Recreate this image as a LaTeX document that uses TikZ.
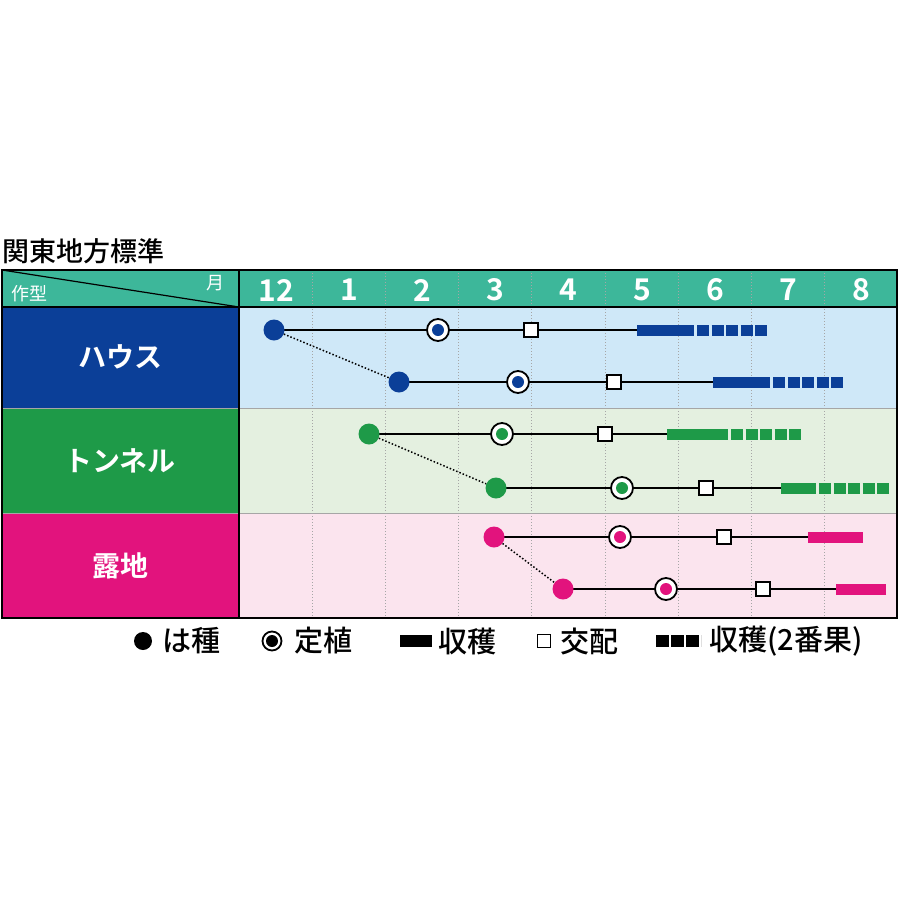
\documentclass[tikz,border=0pt]{standalone}
\usepackage{fontspec}
\setmainfont{Noto Sans CJK JP}[BoldFont={* Bold}]
\newfontfamily\medfont{Noto Sans CJK JP Medium}
\definecolor{hblue}{HTML}{0B3F98}
\definecolor{hbg}{HTML}{CFE8F8}
\definecolor{tgreen}{HTML}{1E9A48}
\definecolor{tbg}{HTML}{E4F0E0}
\definecolor{rmag}{HTML}{E2137D}
\definecolor{rbg}{HTML}{FBE4EE}
\definecolor{teal}{HTML}{3DB79A}
\tikzset{
 seed/.style={circle,fill=#1,minimum size=21pt,inner sep=0pt},
 trans/.style={circle,fill=white,draw=black,line width=1.8pt,minimum size=22pt,inner sep=0pt,path picture={\fill[#1] (path picture bounding box.center) circle (6pt);}},
 cross/.style={rectangle,fill=white,draw=black,line width=1.4pt,minimum size=14pt,inner sep=0pt},
 tl/.style={line width=1.3pt},
 harv/.style={line width=11pt,draw=#1},
 harv2/.style={line width=11pt,draw=#1,dash pattern=on 12pt off 2.5pt},
 dotl/.style={line width=1.5pt,dotted},
 lbl/.style={font=\fontsize{28}{28}\selectfont\bfseries,text=white},
 mon/.style={font=\fontsize{30}{30}\selectfont\bfseries,text=white},
 leg/.style={font=\fontsize{29}{29}\medfont,anchor=west,inner sep=0pt}
}
\begin{document}
\begin{tikzpicture}[x=1pt,y=-1pt]
\useasboundingbox[fill=white] (0,0) rectangle (900,900);
\node[font=\fontsize{27}{27}\medfont,anchor=west,inner sep=0pt] (title) at (2,251) {関東地方標準};
\fill[teal] (2,270) rectangle (897,307);
\fill[hblue] (2,307) rectangle (239,408);
\fill[tgreen] (2,408) rectangle (239,513);
\fill[rmag] (2,513) rectangle (239,618);
\fill[hbg] (239,307) rectangle (897,408);
\fill[tbg] (239,408) rectangle (897,513);
\fill[rbg] (239,513) rectangle (897,618);
\foreach \i in {1,...,8} \draw[gray!70,dotted,line width=1pt] (239+73.2*\i,270) -- (239+73.2*\i,618);
\draw[gray!70,line width=1pt] (2,408) -- (897,408) (2,513) -- (897,513);
\draw[black,line width=1.5pt] (2,270) rectangle (897,618);
\draw[black,line width=1.5pt] (239,270) -- (239,618) (2,307) -- (897,307);
\draw[black,line width=1.2pt] (2,270) -- (239,307);
\node[font=\fontsize{18}{18}\selectfont,text=white,anchor=west] (sak) at (8,294) {作型};
\node[font=\fontsize{18}{18}\selectfont,text=white] (tsuki) at (215,283) {月};
\foreach \m [count=\i from 0] in {12,1,2,3,4,5,6,7,8} \node[mon] (m\i) at (276+73.2*\i,290) {\m};
\node[lbl] (house) at (120,357) {ハウス};
\node[lbl] (tunnel) at (120,461) {トンネル};
\node[lbl] (roji) at (120,566) {露地};
\foreach \y/\s/\t/\c/\ba/\bb/\bc/\col/\n in {330/274/438/531/637/694/767/hblue/a,382/399/518/614/713/770/843/hblue/b,434/369/502/605/667/728/802/tgreen/c,488/496/622/706/781/816/891/tgreen/d,537/494/620/724/808/860/860/rmag/e,589/563/666/763/836/883/883/rmag/f}{
  \coordinate (h\n) at (\ba,\y);
  \coordinate (hm\n) at (\bb,\y);
  \coordinate (he\n) at (\bc,\y);
  \draw[tl] (\s,\y) -- (h\n);
  \node[seed=\col] (s\n) at (\s,\y) {};
  \node[trans=\col] (t\n) at (\t,\y) {};
  \node[cross] (c\n) at (\c,\y) {};
  \draw[harv=\col] (h\n) -- (hm\n);
  \draw[harv2=\col] ([xshift=3pt]hm\n) -- (he\n);
}
\draw[dotl] (sa) -- (sb);
\draw[dotl] (sc) -- (sd);
\draw[dotl] (se) -- (sf);
\node[seed=black,minimum size=18pt] (l1) at (143,641) {};
\node[leg] (lt1) at (162,641) {は種};
\node[trans=black,minimum size=19pt] (l2) at (272,641) {};
\node[leg] (lt2) at (294,641) {定植};
\node[fill=black,minimum width=32pt,minimum height=12pt,inner sep=0pt] (l3) at (416,641) {};
\node[leg] (lt3) at (438,641) {収穫};
\node[cross,line width=1.3pt,minimum size=13pt] (l4) at (544,641) {};
\node[leg] (lt4) at (560,641) {交配};
\draw[line width=12pt,dash pattern=on 13pt off 2pt] (656,641) -- (701,641);
\node[leg] (lt5) at (709,641) {収穫(2番果)};
\end{tikzpicture}
\end{document}
